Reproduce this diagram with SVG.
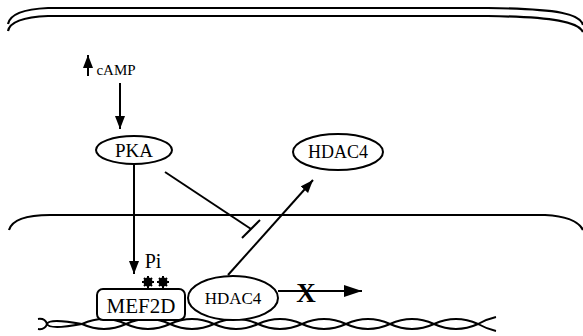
<svg xmlns="http://www.w3.org/2000/svg" width="583" height="336" viewBox="0 0 583 336">
<style>
.ln{fill:none;stroke:#000;stroke-width:2}
.mem{fill:none;stroke:#000;stroke-width:2.2}
.node{fill:#fff;stroke:#000;stroke-width:2}
text{font-family:"Liberation Serif","DejaVu Serif",serif;fill:#000;text-anchor:middle}
</style>
<defs>
<marker id="ah" markerUnits="userSpaceOnUse" markerWidth="14" markerHeight="12" refX="13" refY="5" orient="auto">
<path d="M0,0 L13,5 L0,10 Z" fill="#000"/>
</marker>
<marker id="ahb" markerUnits="userSpaceOnUse" markerWidth="20" markerHeight="14" refX="18" refY="6" orient="auto">
<path d="M0,0 L18,6 L0,12 Z" fill="#000"/>
</marker>
</defs>
<g id="cell-membrane">
<path class="mem" d="M8,24 C10,14 25,9 48,8 L488,8 C560,9 580,14 583,25"/>
<path class="mem" d="M8,31 C10,21 25,17 48,16 L488,16 C555,17 578,22 583,32"/>
</g>
<g id="nuclear-membrane">
<path class="mem" d="M9,230 C12,220 25,215 50,215 L545,215 C565,216 578,220 583,230"/>
</g>
<g id="dna">
<path class="ln" d="M38,319 Q45,318 47,324 T82,324 Q104,314 126,324 T170,324 T214,324 T258,324 T302,324 T346,324 T390,324 T434,324 T478,324 Q487,319 496,317"/>
<path class="ln" d="M38,329 Q45,330 47,324 T82,324 Q104,334 126,324 T170,324 T214,324 T258,324 T302,324 T346,324 T390,324 T434,324 T478,324 Q487,329 496,331"/>
</g>
<g id="camp">
<line class="ln" x1="88" y1="76" x2="88" y2="55" marker-end="url(#ah)"/>
<text x="116" y="75" font-size="15" font-family="Liberation Serif, serif">cAMP</text>
</g>
<g id="pka">
<ellipse class="node" cx="134" cy="150" rx="38" ry="14"/>
<text x="134" y="157" font-size="19" font-family="Liberation Serif, serif">PKA</text>
</g>
<g id="hdac4-cyto">
<ellipse class="node" cx="338" cy="152" rx="45" ry="18"/>
<text x="338" y="158" font-size="18" font-family="Liberation Serif, serif">HDAC4</text>
</g>
<g id="mef2d">
<rect class="node" x="97" y="289" width="88" height="31" rx="6"/>
<text x="141" y="313" font-size="21" font-family="Liberation Serif, serif">MEF2D</text>
</g>
<g id="phospho">
<text x="153" y="268" font-size="20" font-family="Liberation Serif, serif">Pi</text>
<g fill="#000" stroke="#000" stroke-width="2">
<path d="M142,282 L154,282 M148,276 L148,288 M144,278 L152,286 M152,278 L144,286"/>
<path d="M157,282 L169,282 M163,276 L163,288 M159,278 L167,286 M167,278 L159,286"/>
<circle cx="148" cy="282" r="3.5"/>
<circle cx="163" cy="282" r="3.5"/>
</g>
</g>
<g id="hdac4-nuc">
<ellipse class="node" cx="233" cy="298" rx="45" ry="22"/>
<text x="233" y="304" font-size="17" font-family="Liberation Serif, serif">HDAC4</text>
</g>
<g id="connectors">
<line class="ln" x1="120" y1="83" x2="120" y2="129" marker-end="url(#ah)"/>
<line class="ln" x1="134" y1="164" x2="134" y2="274" marker-end="url(#ah)"/>
<line class="ln" x1="165" y1="172" x2="251" y2="229" stroke-width="3"/>
<line class="ln" x1="242" y1="238" x2="260" y2="220" stroke-width="3"/>
<line class="ln" x1="228" y1="275" x2="313" y2="180" marker-end="url(#ah)"/>
<line class="ln" x1="278" y1="291" x2="362" y2="291" stroke-width="4" marker-end="url(#ahb)"/>
<text x="306" y="302" font-size="27" font-weight="bold" font-family="Liberation Serif, serif">X</text>
</g>
</svg>
